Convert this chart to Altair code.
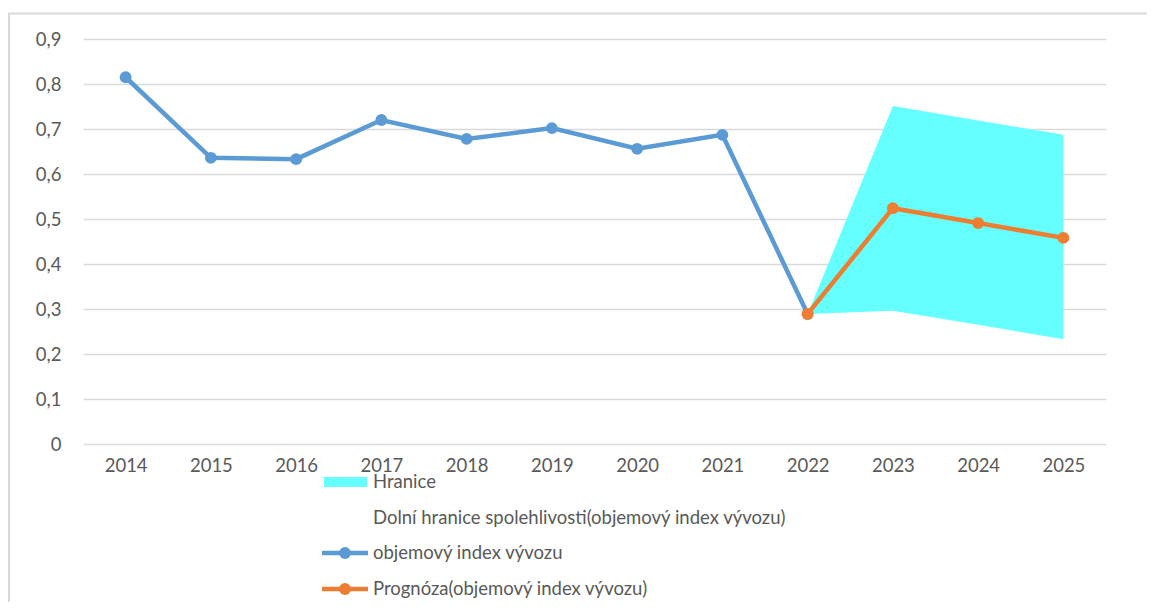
import altair as alt
import pandas as pd

# ---- data ----
years = ["2014", "2015", "2016", "2017", "2018", "2019", "2020", "2021", "2022", "2023", "2024", "2025"]
hist_years = ["2014", "2015", "2016", "2017", "2018", "2019", "2020", "2021", "2022"]
hist_values = [0.815, 0.636, 0.633, 0.720, 0.678, 0.702, 0.656, 0.687, 0.289]
fc_years = ["2022", "2023", "2024", "2025"]
fc_values = [0.289, 0.524, 0.491, 0.458]
fc_lower = [0.289, 0.296, 0.265, 0.233]
fc_upper = [0.289, 0.751, 0.719, 0.687]
y_ticks = [0, 0.1, 0.2, 0.3, 0.4, 0.5, 0.6, 0.7, 0.8, 0.9]
legend_labels = [
    "Hranice",
    "Dolní hranice spolehlivosti(objemový index vývozu)",
    "objemový index vývozu",
    "Prognóza(objemový index vývozu)",
]

BLUE = "#5B9BD5"
ORANGE = "#ED7D31"
CYAN = "#66FFFF"
GRID = "#D9D9D9"
TXT = "#595959"
FONT = "Lato"
FS = 18.5

hist_df = pd.DataFrame({"year": hist_years, "value": hist_values})
fc_df = pd.DataFrame({"year": fc_years, "value": fc_values, "lower": fc_lower, "upper": fc_upper})

x_enc = alt.X(
    "year:O",
    scale=alt.Scale(domain=years, type="point", padding=0.5),
    axis=alt.Axis(
        title=None, labelAngle=0, ticks=False, domain=False, grid=False,
        labelColor=TXT, labelFont=FONT, labelFontSize=FS, labelPadding=12,
    ),
)
y_scale = alt.Scale(domain=[0, 0.9], nice=False)
y_axis = alt.Axis(
    title=None, values=y_ticks, ticks=False, domain=False,
    gridColor=GRID, gridWidth=1.5, labelColor=TXT, labelFont=FONT,
    labelFontSize=FS, labelPadding=22,
    labelExpr="datum.value == 0 ? '0' : replace(format(datum.value, '.1f'), '.', ',')",
)

band = alt.Chart(fc_df).mark_area(color=CYAN, opacity=1).encode(
    x=x_enc,
    y=alt.Y("lower:Q", scale=y_scale, axis=y_axis),
    y2="upper:Q",
)

hist_line = alt.Chart(hist_df).mark_line(
    color=BLUE, strokeWidth=4.5,
    point=alt.OverlayMarkDef(filled=True, color=BLUE, size=140, opacity=1),
).encode(x=x_enc, y=alt.Y("value:Q", scale=y_scale, axis=y_axis))

fc_line = alt.Chart(fc_df).mark_line(
    color=ORANGE, strokeWidth=4.5,
    point=alt.OverlayMarkDef(filled=True, color=ORANGE, size=140, opacity=1),
).encode(x=x_enc, y=alt.Y("value:Q", scale=y_scale, axis=y_axis))

one = alt.Data(values=[{"k": 1}])

# ---- manual legend (below the plot) ----
row_y = [443, 479, 514, 550]
lab_x = 290
leg = []
leg.append(alt.Chart(one).mark_rect(color=CYAN).encode(
    x=alt.value(241), x2=alt.value(284), y=alt.value(row_y[0] - 5), y2=alt.value(row_y[0] + 5)))
for i, col in [(2, BLUE), (3, ORANGE)]:
    leg.append(alt.Chart(one).mark_rule(color=col, strokeWidth=4.5).encode(
        x=alt.value(239), x2=alt.value(285), y=alt.value(row_y[i])))
    leg.append(alt.Chart(one).mark_point(filled=True, color=col, size=140, opacity=1).encode(
        x=alt.value(262), y=alt.value(row_y[i])))
for i, lab in enumerate(legend_labels):
    leg.append(alt.Chart(one).mark_text(
        align="left", baseline="middle", font=FONT, fontSize=FS, color=TXT).encode(
        x=alt.value(lab_x), y=alt.value(row_y[i]), text=alt.value(lab)))

# ---- outer frame lines ----
frame_top = alt.Chart(one).mark_rule(color=GRID, strokeWidth=2).encode(
    x=alt.value(-75), x2=alt.value(1064), y=alt.value(-25.5))
frame_left = alt.Chart(one).mark_rule(color=GRID, strokeWidth=2).encode(
    x=alt.value(-74), y=alt.value(-26), y2=alt.value(565))

chart = alt.layer(band, hist_line, fc_line, frame_top, frame_left, *leg).properties(
    width=1023, height=405,
    background="white",
    autosize=alt.AutoSizeParams(type="none"),
    padding={"left": 75, "top": 31, "right": 41, "bottom": 158},
).configure_view(strokeWidth=0, stroke="transparent")

chart.save("out.html", embed_options={"renderer": "svg", "actions": False})
